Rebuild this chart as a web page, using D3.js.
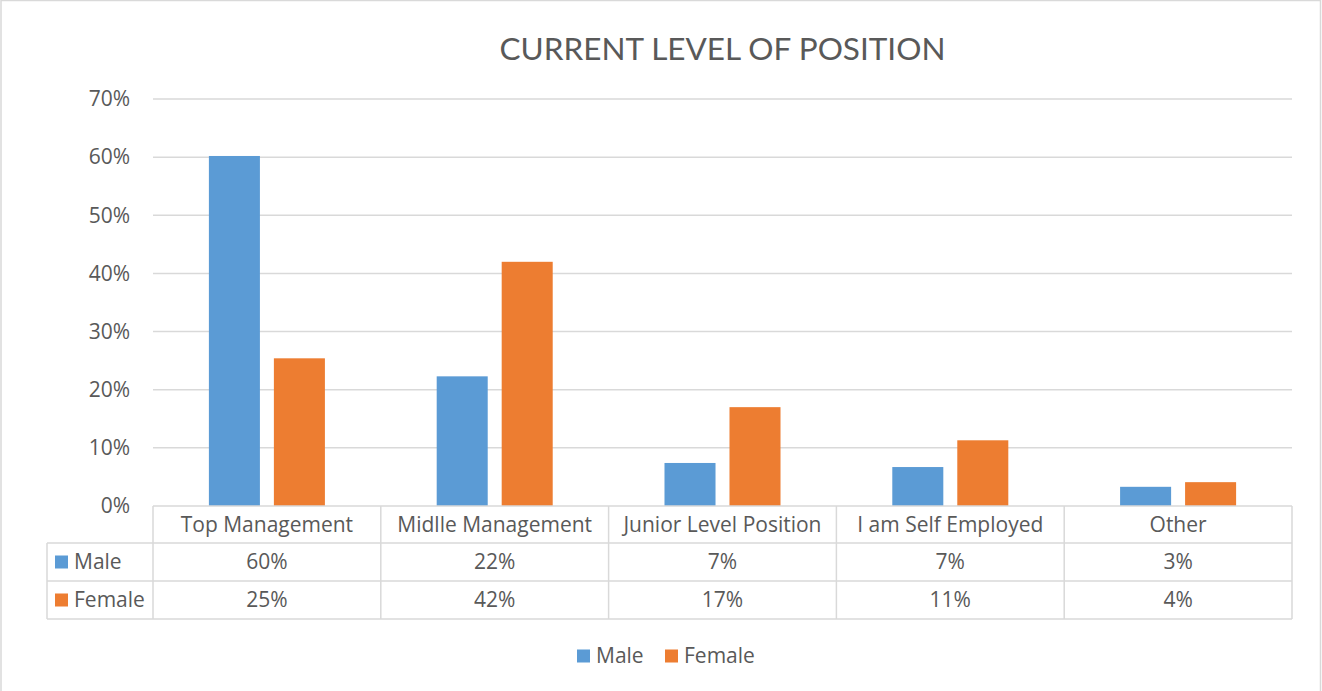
<!DOCTYPE html>
<html lang="en">
<head>
  <meta charset="utf-8"/>
  <title>Current level of position</title>
  <script src="https://d3js.org/d3.v7.min.js"></script>
  <style>
    body { margin: 0; background: #fff; }
    text { font-family: "Open Sans", "Lato", sans-serif; fill: #595959; }
    .title { font-family: "Lato", "Open Sans", sans-serif; }
  </style>
</head>
<body>
<svg id="chart" width="1322" height="691"></svg>

<script>
  // chart data
  const categories = ["Top Management", "Midlle Management", "Junior Level Position", "I am Self Employed", "Other"];
  const seriesNames = ["Male", "Female"];
  const maleValues = [60.2, 22.3, 7.4, 6.7, 3.3];
  const femaleValues = [25.4, 42.0, 17.0, 11.3, 4.1];
  const yTicks = [0, 10, 20, 30, 40, 50, 60, 70];

  const colors = { Male: "#5b9bd5", Female: "#ed7d31" };
  const gridColor = "#d9d9d9";
  const fontSize = "21px";

  const svg = d3.select("#chart");

  // outer chart border
  svg.append("rect")
    .attr("x", 1).attr("y", 0.5)
    .attr("width", 1319.5).attr("height", 700)
    .attr("fill", "none").attr("stroke", gridColor).attr("stroke-width", 1.5);

  const plotLeft = 153, plotRight = 1292, plotTop = 99, plotBottom = 506;

  const x = d3.scaleBand().domain(categories).range([plotLeft, plotRight]);
  const xSeries = d3.scaleBand().domain(seriesNames)
    .range([0, x.bandwidth()]).paddingInner(0.215).paddingOuter(0.86);
  const y = d3.scaleLinear().domain([0, 70]).range([plotBottom, plotTop]);

  // title
  svg.append("text")
    .attr("class", "title")
    .attr("x", (plotLeft + plotRight) / 2).attr("y", 60)
    .attr("text-anchor", "middle")
    .style("font-size", "31.5px")
    .text("CURRENT LEVEL OF POSITION");

  // gridlines
  svg.append("g").selectAll("line")
    .data(yTicks.filter(d => d > 0))
    .enter().append("line")
    .attr("x1", plotLeft).attr("x2", plotRight)
    .attr("y1", d => y(d)).attr("y2", d => y(d))
    .attr("stroke", gridColor).attr("stroke-width", 1.5);

  // y tick labels
  svg.append("g").selectAll("text")
    .data(yTicks)
    .enter().append("text")
    .attr("x", 130).attr("y", d => y(d))
    .attr("dy", "0.35em")
    .attr("text-anchor", "end")
    .style("font-size", fontSize)
    .text(d => d + "%");

  // bars
  const rows = categories.map((c, i) => ({ cat: c, Male: maleValues[i], Female: femaleValues[i] }));
  const groups = svg.append("g").selectAll("g")
    .data(rows)
    .enter().append("g")
    .attr("transform", d => `translate(${x(d.cat)},0)`);

  groups.selectAll("rect")
    .data(d => seriesNames.map(s => ({ s: s, v: d[s] })))
    .enter().append("rect")
    .attr("x", d => xSeries(d.s))
    .attr("width", xSeries.bandwidth())
    .attr("y", d => y(d.v))
    .attr("height", d => y(0) - y(d.v))
    .attr("fill", d => colors[d.s]);

  // data table
  const tableLeft = 47, rowTops = [506, 543, 581, 619];
  const table = svg.append("g")
    .attr("stroke", gridColor).attr("stroke-width", 1.5);

  // horizontal lines
  table.append("line").attr("x1", plotLeft).attr("x2", plotRight)
    .attr("y1", rowTops[0]).attr("y2", rowTops[0]);
  rowTops.slice(1).forEach(t => {
    table.append("line").attr("x1", tableLeft).attr("x2", plotRight)
      .attr("y1", t).attr("y2", t);
  });
  // vertical lines
  table.append("line").attr("x1", tableLeft).attr("x2", tableLeft)
    .attr("y1", rowTops[1]).attr("y2", rowTops[3]);
  categories.concat([null]).forEach(c => {
    const xv = c ? x(c) : plotRight;
    table.append("line").attr("x1", xv).attr("x2", xv)
      .attr("y1", rowTops[0]).attr("y2", rowTops[3]);
  });

  const rowMid = i => (rowTops[i] + rowTops[i + 1]) / 2;

  // category header
  svg.append("g").selectAll("text")
    .data(categories)
    .enter().append("text")
    .attr("x", d => x(d) + x.bandwidth() / 2)
    .attr("y", rowMid(0)).attr("dy", "0.35em")
    .attr("text-anchor", "middle")
    .style("font-size", fontSize)
    .text(d => d);

  // series rows
  [maleValues, femaleValues].forEach((vals, r) => {
    const s = seriesNames[r];
    svg.append("rect")
      .attr("x", 55).attr("y", rowMid(r + 1) - 6.5)
      .attr("width", 13).attr("height", 13)
      .attr("fill", colors[s]);
    svg.append("text")
      .attr("x", 74).attr("y", rowMid(r + 1)).attr("dy", "0.35em")
      .style("font-size", fontSize)
      .text(s);
    svg.append("g").selectAll("text")
      .data(vals)
      .enter().append("text")
      .attr("x", (d, i) => x(categories[i]) + x.bandwidth() / 2)
      .attr("y", rowMid(r + 1)).attr("dy", "0.35em")
      .attr("text-anchor", "middle")
      .style("font-size", fontSize)
      .text(d => Math.round(d) + "%");
  });

  // legend
  const legend = svg.append("g").attr("transform", "translate(577,656)");
  const legendX = [0, 88];
  seriesNames.forEach((s, i) => {
    legend.append("rect")
      .attr("x", legendX[i]).attr("y", -6.5)
      .attr("width", 13).attr("height", 13)
      .attr("fill", colors[s]);
    legend.append("text")
      .attr("x", legendX[i] + 19).attr("y", 0).attr("dy", "0.35em")
      .style("font-size", fontSize)
      .text(s);
  });
</script>
</body>
</html>
